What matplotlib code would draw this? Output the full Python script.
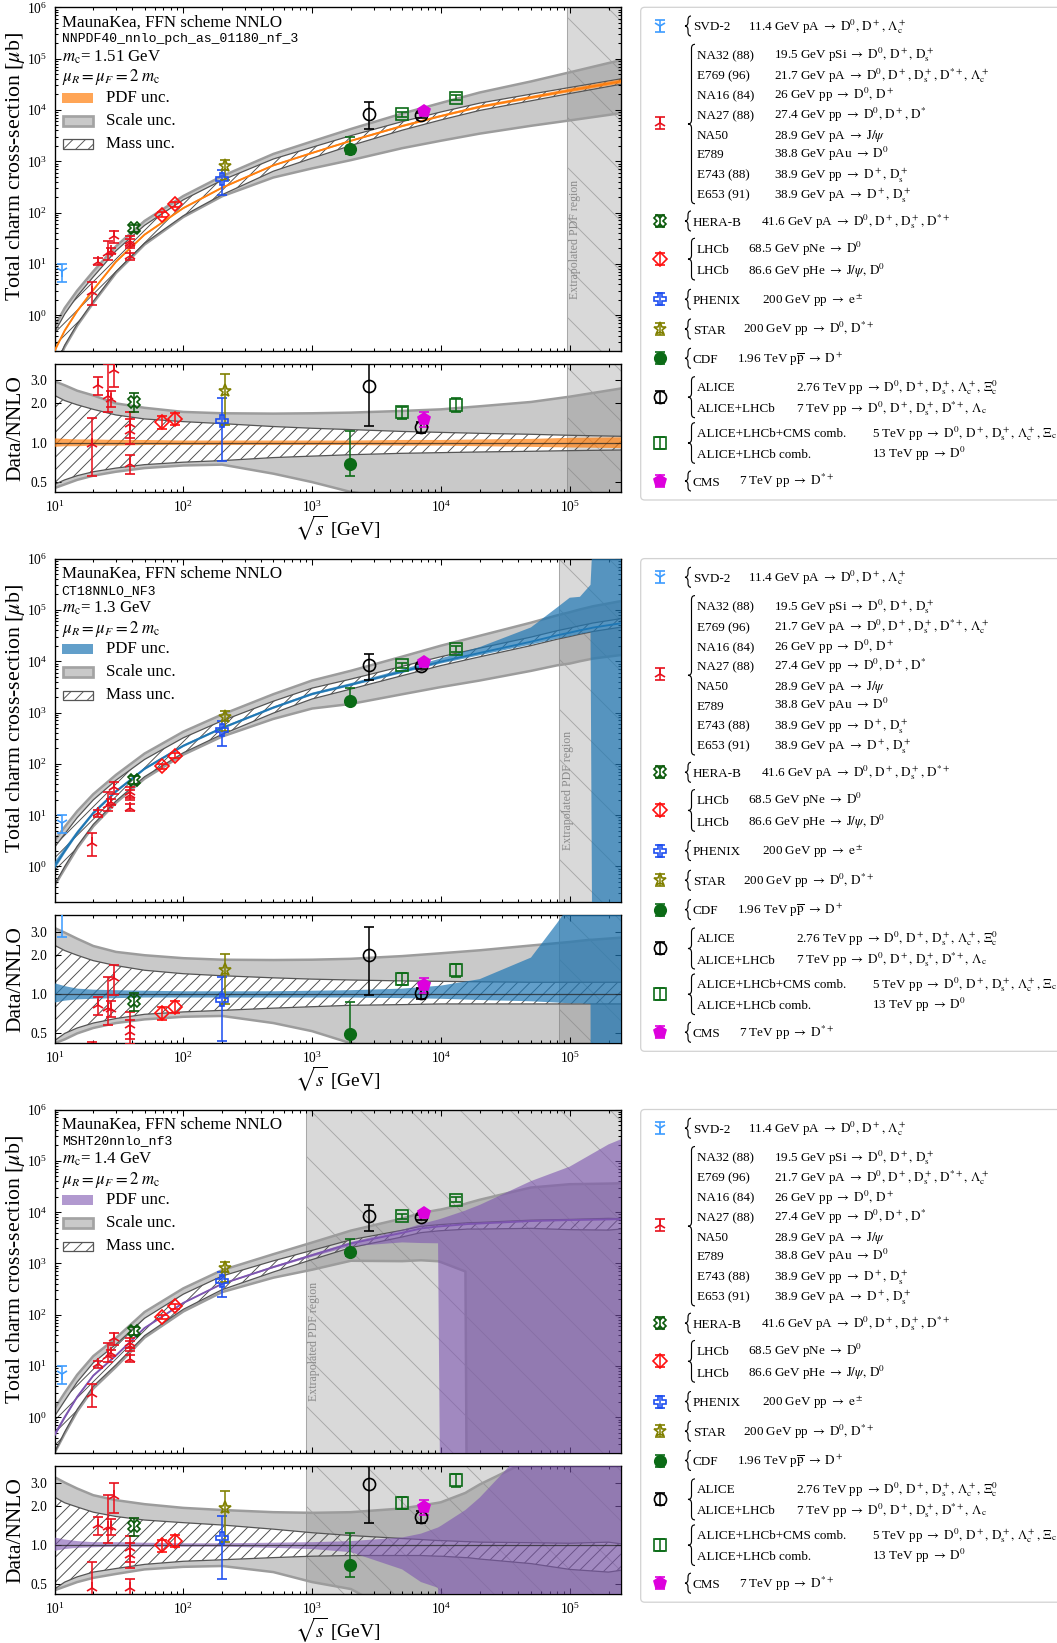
import numpy as np
import matplotlib.pyplot as plt
from matplotlib.path import Path
from matplotlib.patches import PathPatch, Rectangle, FancyBboxPatch
from matplotlib.ticker import NullLocator, FixedLocator, FixedFormatter

plt.rcParams['font.family'] = ['Liberation Serif', 'DejaVu Serif']
plt.rcParams['mathtext.fontset'] = 'stix'
plt.rcParams['hatch.linewidth'] = 0.45
plt.rcParams['axes.linewidth'] = 0.65

W, H = 1057, 1643
DPI = 150

# measured total charm cross-sections: sqrt(s) [GeV], sigma [mub], lower / upper error
svd_s, svd_val, svd_lo, svd_hi = [11.4], [7.1], [2.6], [2.9]
fixed_s = [19.5, 21.7, 26.0, 27.4, 28.9, 38.8, 38.9, 38.9]
fixed_val = [2.8, 11.0, 16.0, 18.0, 35.0, 28.0, 14.0, 25.0]
fixed_lo = [1.2, 1.7, 4.0, 2.5, 9.0, 6.0, 2.2, 5.0]
fixed_hi = [1.6, 1.8, 12.0, 2.5, 9.0, 7.0, 2.5, 6.0]
herab_s, herab_val, herab_lo, herab_hi = [41.6], [49.0], [8.0], [8.0]
lhcb_s, lhcb_val, lhcb_lo, lhcb_hi = [68.5, 86.6], [91.0, 145.0], [10.0, 15.0], [10.0, 15.0]
phenix_s, phenix_val, phenix_lo, phenix_hi = [200.0], [450.0], [230.0], [220.0]
star_s, star_val, star_lo, star_hi = [210.0], [800.0], [360.0], [270.0]
cdf_s, cdf_val, cdf_lo, cdf_hi = [1960.0], [1700.0], [325.0], [1300.0]
alice_s, alice_val, alice_lo, alice_hi = [2760.0, 7000.0], [8500.0, 7900.0], [4250.0, 800.0], [5500.0, 800.0]
comb_s, comb_val, comb_lo, comb_hi = [5020.0, 13000.0], [8300.0, 17400.0], [900.0, 2000.0], [900.0, 2000.0]
cms_s, cms_val, cms_lo, cms_hi = [7400.0], [9500.0], [1200.0], [1200.0]

# NNLO predictions: central value [mub] and bands as ratio to central
nnpdf_s = [10, 12, 15, 20, 30, 50, 100, 200, 500, 1e3, 2e3, 5e3, 1e4, 2e4, 5e4, 1e5, 2.5e5]
nnpdf_central = [0.2, 0.5, 1.2, 3.1, 11, 37, 122, 305, 830, 1450, 2500, 4850, 7600, 11500, 17500, 24000, 36000]
nnpdf_pdf_lo = [0.93, 0.94, 0.94, 0.95, 0.95, 0.96, 0.96, 0.96, 0.96, 0.96, 0.96, 0.95, 0.95, 0.94, 0.93, 0.92, 0.91]
nnpdf_pdf_hi = [1.08, 1.07, 1.06, 1.06, 1.05, 1.05, 1.04, 1.04, 1.04, 1.04, 1.04, 1.05, 1.05, 1.06, 1.07, 1.09, 1.10]
nnpdf_scale_lo = [0.45, 0.48, 0.52, 0.56, 0.60, 0.64, 0.67, 0.68, 0.58, 0.50, 0.42, 0.37, 0.33, 0.30, 0.28, 0.26, 0.24]
nnpdf_scale_hi = [2.95, 2.75, 2.50, 2.30, 2.00, 1.85, 1.72, 1.68, 1.67, 1.68, 1.70, 1.75, 1.80, 1.90, 2.05, 2.25, 2.60]
nnpdf_mass_lo = [0.48, 0.52, 0.56, 0.60, 0.64, 0.68, 0.71, 0.73, 0.77, 0.79, 0.81, 0.83, 0.84, 0.85, 0.86, 0.87, 0.88]
nnpdf_mass_hi = [2.30, 2.10, 1.95, 1.80, 1.63, 1.52, 1.45, 1.40, 1.33, 1.29, 1.26, 1.22, 1.20, 1.18, 1.16, 1.14, 1.12]

ct18_s = [10, 12, 15, 20, 30, 50, 100, 200, 500, 1e3, 2e3, 5e3, 1e4, 2e4, 5e4, 8e4, 1e5, 1.2e5, 1.45e5, 1.5e5, 2.5e5]
ct18_central = [1.0, 2.0, 4.5, 11, 29, 80, 225, 500, 1250, 2300, 3500, 6300, 9800, 14500, 24000, 32000, 36000, 40000, 44000, 45000, 55000]
ct18_pdf_lo = [0.86, 0.89, 0.91, 0.92, 0.93, 0.94, 0.94, 0.94, 0.94, 0.94, 0.94, 0.93, 0.92, 0.90, 0.88, 0.86, 0.85, 0.85, 0.84, 1e-7, 1e-7]
ct18_pdf_hi = [1.21, 1.15, 1.10, 1.08, 1.07, 1.06, 1.05, 1.05, 1.05, 1.06, 1.07, 1.10, 1.16, 1.30, 1.90, 3.50, 4.80, 4.50, 7.00, 40.0, 40.0]
ct18_scale_lo = [0.42, 0.45, 0.50, 0.55, 0.60, 0.64, 0.67, 0.68, 0.60, 0.52, 0.42, 0.36, 0.32, 0.29, 0.27, 0.26, 0.25, 0.25, 0.25, 0.25, 0.24]
ct18_scale_hi = [3.20, 2.95, 2.65, 2.33, 2.10, 1.98, 1.88, 1.83, 1.82, 1.83, 1.86, 1.95, 2.05, 2.16, 2.35, 2.45, 2.50, 2.55, 2.60, 2.60, 2.70]
ct18_mass_lo = [0.44, 0.50, 0.55, 0.60, 0.65, 0.70, 0.73, 0.75, 0.78, 0.80, 0.82, 0.83, 0.84, 0.84, 0.84, 0.84, 0.84, 0.84, 0.84, 0.84, 0.84]
ct18_mass_hi = [2.36, 2.15, 1.98, 1.80, 1.65, 1.52, 1.43, 1.38, 1.33, 1.30, 1.28, 1.26, 1.25, 1.24, 1.23, 1.23, 1.23, 1.23, 1.23, 1.23, 1.23]

msht_s = [10, 12, 15, 20, 30, 50, 100, 200, 500, 1e3, 2e3, 5e3, 7e3, 9.5e3, 1e4, 1.55e4, 1.6e4, 2e4, 5e4, 1e5, 2e5, 2.5e5]
msht_central = [0.45, 1.0, 2.5, 6.5, 16, 55, 170, 400, 850, 1450, 2450, 3950, 4800, 5250, 5300, 5800, 5850, 6000, 6700, 7000, 7200, 7300]
msht_pdf_lo = [0.90, 0.93, 0.95, 0.96, 0.97, 0.97, 0.97, 0.97, 0.95, 0.93, 0.88, 0.65, 0.52, 0.47, 1e-7, 1e-7, 1e-7, 1e-7, 1e-7, 1e-7, 1e-7, 1e-7]
msht_pdf_hi = [1.14, 1.10, 1.07, 1.05, 1.05, 1.04, 1.03, 1.03, 1.04, 1.05, 1.07, 1.14, 1.22, 1.36, 1.40, 1.85, 1.90, 2.30, 6.00, 11.0, 29.0, 36.0]
msht_scale_lo = [0.45, 0.48, 0.52, 0.56, 0.60, 0.65, 0.68, 0.69, 0.62, 0.52, 0.46, 0.28, 0.24, 0.21, 0.20, 0.12, 1e-7, 1e-7, 1e-7, 1e-7, 1e-7, 1e-7]
msht_scale_hi = [3.30, 3.00, 2.70, 2.40, 2.20, 2.05, 1.92, 1.85, 1.78, 1.76, 1.78, 1.90, 2.00, 2.10, 2.12, 2.50, 2.55, 2.90, 4.50, 5.00, 5.00, 5.00]
msht_mass_lo = [0.46, 0.52, 0.57, 0.62, 0.66, 0.71, 0.75, 0.77, 0.80, 0.82, 0.83, 0.83, 0.83, 0.82, 0.82, 0.80, 0.80, 0.78, 0.72, 0.65, 0.62, 0.64]
msht_mass_hi = [2.32, 2.10, 1.95, 1.78, 1.65, 1.55, 1.48, 1.42, 1.32, 1.24, 1.18, 1.12, 1.10, 1.08, 1.08, 1.06, 1.06, 1.05, 1.04, 1.03, 1.05, 1.02]

ARR = r'\rightarrow\;'
legend_names = ['SVD-2', 'NA32 (88)', 'E769 (96)', 'NA16 (84)', 'NA27 (88)', 'NA50', 'E789',
                'E743 (88)', 'E653 (91)', 'HERA-B', 'LHCb', 'LHCb', 'PHENIX', 'STAR', 'CDF',
                'ALICE', 'ALICE+LHCb', 'ALICE+LHCb+CMS comb.', 'ALICE+LHCb comb.', 'CMS']
legend_details = [
    r'11.4 GeV pA $' + ARR + r'\mathrm{D}^0,\,\mathrm{D}^+,\,\Lambda_\mathrm{c}^+$',
    r'19.5 GeV pSi $' + ARR + r'\mathrm{D}^0,\,\mathrm{D}^+,\,\mathrm{D}_\mathrm{s}^+$',
    r'21.7 GeV pA $' + ARR + r'\mathrm{D}^0,\,\mathrm{D}^+,\,\mathrm{D}_\mathrm{s}^+,\,\mathrm{D}^{*+},\,\Lambda_\mathrm{c}^+$',
    r'26 GeV pp $' + ARR + r'\mathrm{D}^0,\,\mathrm{D}^+$',
    r'27.4 GeV pp $' + ARR + r'\mathrm{D}^0,\,\mathrm{D}^+,\,\mathrm{D}^{*}$',
    r'28.9 GeV pA $' + ARR + r'\mathrm{J}/\psi$',
    r'38.8 GeV pAu $' + ARR + r'\mathrm{D}^0$',
    r'38.9 GeV pp $' + ARR + r'\mathrm{D}^+,\,\mathrm{D}_\mathrm{s}^+$',
    r'38.9 GeV pA $' + ARR + r'\mathrm{D}^+,\,\mathrm{D}_\mathrm{s}^+$',
    r'41.6 GeV pA $' + ARR + r'\mathrm{D}^0,\,\mathrm{D}^+,\,\mathrm{D}_\mathrm{s}^+,\,\mathrm{D}^{*+}$',
    r'68.5 GeV pNe $' + ARR + r'\mathrm{D}^0$',
    r'86.6 GeV pHe $' + ARR + r'\mathrm{J}/\psi,\,\mathrm{D}^0$',
    r'200 GeV pp $' + ARR + r'\mathrm{e}^\pm$',
    r'200 GeV pp $' + ARR + r'\mathrm{D}^0,\,\mathrm{D}^{*+}$',
    r'1.96 TeV p$\overline{\mathrm{p}}$ $' + ARR + r'\mathrm{D}^+$',
    r'2.76 TeV pp $' + ARR + r'\mathrm{D}^0,\,\mathrm{D}^+,\,\mathrm{D}_\mathrm{s}^+,\,\Lambda_\mathrm{c}^+,\,\Xi_\mathrm{c}^0$',
    r'7 TeV pp $' + ARR + r'\mathrm{D}^0,\,\mathrm{D}^+,\,\mathrm{D}_\mathrm{s}^+,\,\mathrm{D}^{*+},\,\Lambda_\mathrm{c}$',
    r'5 TeV pp $' + ARR + r'\mathrm{D}^0,\,\mathrm{D}^+,\,\mathrm{D}_\mathrm{s}^+,\,\Lambda_\mathrm{c}^+,\,\Xi_\mathrm{c}$',
    r'13 TeV pp $' + ARR + r'\mathrm{D}^0$',
    r'7 TeV pp $' + ARR + r'\mathrm{D}^{*+}$',
]

# layout of the legend box, in pixels from the top of each panel
row_y = [26, 54.3, 75, 95, 114.3, 134.3, 153.7, 173.7, 193.7, 221, 248.3, 270, 299.3, 329,
         358.3, 386.7, 407.7, 432.7, 453.3, 481]
col2_x = [748] + [774] * 8 + [761, 748, 748, 762, 743, 737, 796, 796, 872, 872, 739]
groups = [(0, 0), (1, 8), (9, 9), (10, 11), (12, 12), (13, 13), (14, 14), (15, 16), (17, 18), (19, 19)]

experiments = [
    (svd_s, svd_val, svd_lo, svd_hi, '1', '#3d9cff', True, 6.0),
    (fixed_s, fixed_val, fixed_lo, fixed_hi, '2', '#e8101c', True, 5.5),
    (herab_s, herab_val, herab_lo, herab_hi, 'X', '#0a5a0a', False, 5.5),
    (lhcb_s, lhcb_val, lhcb_lo, lhcb_hi, 'D', '#ff1010', False, 5.0),
    (phenix_s, phenix_val, phenix_lo, phenix_hi, 'P', '#1f4ff0', False, 5.5),
    (star_s, star_val, star_lo, star_hi, '*', '#808000', False, 6.5),
    (cdf_s, cdf_val, cdf_lo, cdf_hi, 'o', '#0b6b16', True, 5.5),
    (alice_s, alice_val, alice_lo, alice_hi, 'o', 'black', False, 5.8),
    (comb_s, comb_val, comb_lo, comb_hi, 's', '#0b6b16', False, 5.5),
    (cms_s, cms_val, cms_lo, cms_hi, 'p', '#dd00dd', True, 6.0),
]

panels = [
    dict(s=nnpdf_s, mid=nnpdf_central, pdf=(nnpdf_pdf_lo, nnpdf_pdf_hi),
         scale=(nnpdf_scale_lo, nnpdf_scale_hi), mass=(nnpdf_mass_lo, nnpdf_mass_hi),
         color='#ff7f0e', alpha=0.7, x0=9.6e4, xt=1.1e5,
         name='NNPDF40_nnlo_pch_as_01180_nf_3', mc='1.51'),
    dict(s=ct18_s, mid=ct18_central, pdf=(ct18_pdf_lo, ct18_pdf_hi),
         scale=(ct18_scale_lo, ct18_scale_hi), mass=(ct18_mass_lo, ct18_mass_hi),
         color='#1f77b4', alpha=0.7, x0=8.3e4, xt=9.7e4,
         name='CT18NNLO_NF3', mc='1.3'),
    dict(s=msht_s, mid=msht_central, pdf=(msht_pdf_lo, msht_pdf_hi),
         scale=(msht_scale_lo, msht_scale_hi), mass=(msht_mass_lo, msht_mass_hi),
         color='#7d55b0', alpha=0.6, x0=890, xt=1.04e3,
         name='MSHT20nnlo_nf3', mc='1.4'),
]
offsets = [0.0, 551.3, 1102.2]


def frame(left, top, right, bottom):
    return [left / W, 1 - bottom / H, (right - left) / W, (bottom - top) / H]


def draw_bands(ax, p, mid):
    s = np.asarray(p['s'], dtype=float)
    sc_lo, sc_hi = (np.asarray(a) * mid for a in p['scale'])
    ms_lo, ms_hi = (np.asarray(a) * mid for a in p['mass'])
    pdf_lo, pdf_hi = (np.asarray(a) * mid for a in p['pdf'])
    ax.axvspan(p['x0'], 1e7, facecolor='#d9d9d9', edgecolor='#a8a8a8', hatch='\\',
               lw=0.5, zorder=0.5)
    ax.fill_between(s, ms_hi, sc_hi, facecolor='#808080', alpha=0.42, lw=0, zorder=1)
    ax.fill_between(s, sc_lo, ms_lo, facecolor='#808080', alpha=0.42, lw=0, zorder=1)
    ax.plot(s, sc_hi, color='#9c9c9c', lw=1.2, zorder=1.2)
    ax.plot(s, sc_lo, color='#9c9c9c', lw=1.2, zorder=1.2)
    ax.fill_between(s, ms_lo, ms_hi, facecolor='none', edgecolor='#4d4d4d', hatch='////',
                    lw=0, zorder=1.5)
    ax.plot(s, ms_hi, color='#555555', lw=0.6, zorder=1.6)
    ax.plot(s, ms_lo, color='#555555', lw=0.6, zorder=1.6)
    ax.fill_between(s, pdf_lo, pdf_hi, facecolor=p['color'], alpha=p['alpha'], lw=0, zorder=3)


def draw_points(ax, p, ratio):
    grid = np.log(np.asarray(p['s'], dtype=float))
    mid = np.log(np.asarray(p['mid'], dtype=float))
    for s, val, lo, hi, mk, col, filled, ms in experiments:
        s = np.asarray(s)
        v, l, h = np.asarray(val), np.asarray(lo), np.asarray(hi)
        if ratio:
            c = np.exp(np.interp(np.log(s), grid, mid))
            v, l, h = v / c, l / c, h / c
        ax.errorbar(s, v, yerr=[l, h], fmt=mk, color=col, mec=col,
                    mfc=col if filled else 'none', ms=ms, mew=0.8, elinewidth=0.75,
                    capsize=2.2, capthick=0.75, zorder=6)


def brace(ax, x, y0, y1, w):
    ym = 0.5 * (y0 + y1)
    r = min(4.0, 0.25 * (y1 - y0))
    xm = x + 0.5 * w
    verts = [(x + w, y0), (xm, y0), (xm, y0 + r), (xm, ym - r), (xm, ym), (x, ym),
             (xm, ym), (xm, ym + r), (xm, y1 - r), (xm, y1), (x + w, y1)]
    codes = [Path.MOVETO, Path.CURVE3, Path.CURVE3, Path.LINETO, Path.CURVE3, Path.CURVE3,
             Path.CURVE3, Path.CURVE3, Path.LINETO, Path.CURVE3, Path.CURVE3]
    ax.add_patch(PathPatch(Path(verts, codes), fc='none', ec='black', lw=0.55))


fig = plt.figure(figsize=(W / DPI, H / DPI), dpi=DPI)

ov = fig.add_axes([0, 0, 1, 1], zorder=10)
ov.set_xlim(0, W)
ov.set_ylim(H, 0)
ov.axis('off')

marker_y = [26, 123, 221, 259, 299.3, 329, 358.3, 397, 443, 481]

for p, dy in zip(panels, offsets):
    ax = fig.add_axes(frame(54.5, 7.3 + dy, 621, 351 + dy))
    axr = fig.add_axes(frame(54.5, 364 + dy, 621, 492 + dy))

    draw_bands(ax, p, np.asarray(p['mid'], dtype=float))
    ax.plot(p['s'], p['mid'], color=p['color'], lw=0.9, zorder=3.5)
    draw_points(ax, p, ratio=False)
    ax.text(p['xt'], 30, 'Extrapolated PDF region', rotation=90, ha='center', va='center',
            color='#8a8a8a', fontsize=5.7, zorder=2)

    draw_bands(axr, p, np.ones(len(p['s'])))
    axr.axhline(1.0, color='#262626', lw=0.6, alpha=0.75, zorder=4)
    draw_points(axr, p, ratio=True)

    for a in (ax, axr):
        a.set_xscale('log')
        a.set_yscale('log')
        a.set_xlim(10, 2.5e5)
        a.tick_params(which='both', direction='in', top=True, right=True, labelsize=6.5,
                      width=0.5)
        a.tick_params(which='major', length=3.0)
        a.tick_params(which='minor', length=1.6)
    ax.set_ylim(0.2, 1e6)
    ax.tick_params(labelbottom=False)
    axr.set_ylim(0.42, 4.0)
    axr.yaxis.set_major_locator(FixedLocator([0.5, 1.0, 2.0, 3.0]))
    axr.yaxis.set_major_formatter(FixedFormatter(['0.5', '1.0', '2.0', '3.0']))
    axr.yaxis.set_minor_locator(NullLocator())

    # axis titles
    ov.text(15.5, 167 + dy, r'Total charm cross-section [$\mu$b]', rotation=90,
            ha='center', va='center', fontsize=10.5)
    ov.text(15.5, 428 + dy, 'Data/NNLO', rotation=90, ha='center', va='center', fontsize=10.3)
    ov.text(338, 528 + dy, r'$\sqrt{s}$ [GeV]', ha='center', va='center', fontsize=9.3)

    # setup block in the upper left corner
    ov.text(61.7, 22.7 + dy, 'MaunaKea, FFN scheme NNLO', va='center', fontsize=8.1)
    ov.text(61.7, 39.3 + dy, p['name'], va='center', fontsize=6.3, family='Liberation Mono')
    ov.text(61.7, 57.3 + dy, r'$m_\mathrm{c}$= ' + p['mc'] + ' GeV', va='center', fontsize=8.1)
    ov.text(61.7, 77.3 + dy, r'$\mu_R = \mu_F = 2\ m_\mathrm{c}$', va='center', fontsize=8.1)
    ov.add_patch(Rectangle((61.7, 92.7 + dy), 31.6, 10, facecolor=p['color'],
                           alpha=p['alpha'], lw=0))
    ov.add_patch(Rectangle((62.5, 116 + dy), 30, 9.5, facecolor='#c9c9c9',
                           edgecolor='#a3a3a3', lw=1.3))
    ov.add_patch(Rectangle((62.5, 139.3 + dy), 30, 9.5, facecolor='white',
                           edgecolor='#555555', hatch='////', lw=0.6))
    for yy, lab in zip([97.7, 120.7, 144], ['PDF unc.', 'Scale unc.', 'Mass unc.']):
        ov.text(106, yy + dy, lab, va='center', fontsize=8.1)

    # experiment legend box
    ov.add_patch(FancyBboxPatch((640.7, 7.3 + dy), 440, 492.7,
                                boxstyle='round,pad=0,rounding_size=4',
                                facecolor='white', edgecolor='#d2d2d2', lw=0.6, zorder=0))
    for (i0, i1), my, (s, val, lo, hi, mk, col, filled, ms) in zip(groups, marker_y, experiments):
        ov.errorbar([660], [my + dy], yerr=[[6], [6]], fmt=mk, color=col, mec=col,
                    mfc=col if filled else 'none', ms=ms, mew=0.8, elinewidth=0.75,
                    capsize=2.2, capthick=0.75, clip_on=False)
        multi = i1 > i0
        tip = 688 if multi else 685
        brace(ov, tip, row_y[i0] - 10 + dy, row_y[i1] + 10 + dy, 7 if multi else 6)
        for i in range(i0, i1 + 1):
            ov.text(696.7 if multi else 692.7, row_y[i] + 4.5 + dy, legend_names[i],
                    va='baseline', fontsize=6.3)
            ov.text(col2_x[i], row_y[i] + 4.5 + dy, legend_details[i],
                    va='baseline', fontsize=6.3)

fig.savefig('out.png', dpi=DPI)
